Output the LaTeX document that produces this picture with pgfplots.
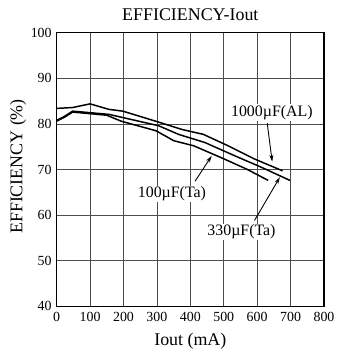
\documentclass[border=0pt]{standalone}
\usepackage{fontspec}
\setmainfont{Liberation Serif}
\usepackage{pgfplots}
\pgfplotsset{compat=1.18}
\usetikzlibrary{arrows.meta}
\begin{document}
\begin{tikzpicture}
\begin{axis}[
  scale only axis,
  width=269pt, height=275pt,
  xmin=0, xmax=800, ymin=40, ymax=100,
  xtick={0,100,...,800}, ytick={40,50,...,100},
  grid=major,
  major grid style={black!70, line width=0.7pt},
  axis line style={black, line width=1.1pt},
  tick style={draw=none},
  /pgf/number format/assume math mode=true,
  ticklabel style={font=\fontsize{14}{16}\selectfont},
  xticklabel style={yshift=-2.5pt},
  yticklabel style={xshift=-1.5pt},
  clip=false,
]
% invisible bounding box
\path (rel axis cs:0,0) ++(-57pt,-45pt) coordinate (bbA);
\path (rel axis cs:1,1) ++(13pt,33pt) coordinate (bbB);
\path (bbA) rectangle (bbB);
% title and labels
\node[anchor=base, font=\fontsize{18}{20}\selectfont] at ([yshift=12pt]rel axis cs:0.5,1) {EFFICIENCY-Iout};
\node[anchor=base, font=\fontsize{18}{20}\selectfont] at ([yshift=-40pt]rel axis cs:0.5,0) {Iout (mA)};
\node[anchor=base, rotate=90, font=\fontsize{18}{20}\selectfont] at ([xshift=-34.5pt,yshift=3pt]rel axis cs:0,0.5) {EFFICIENCY (\%)};
% 1000uF (AL)
\addplot[black, line width=1.5pt] coordinates {
 (0,83.4) (48,83.6) (100,84.4) (156,83.2) (198,82.8) (305,80.4) (374,78.8) (439,77.7) (513,75.2) (592,72.3) (676,69.7)};
% 330uF (Ta)
\addplot[black, line width=1.5pt] coordinates {
 (0,80.8) (22,81.6) (48,82.8) (156,82.1) (305,79.6) (365,77.7) (444,75.9) (533,73.0) (612,70.5) (698,67.6)};
% 100uF (Ta)
\addplot[black, line width=1.5pt] coordinates {
 (0,80.6) (22,81.4) (48,82.6) (150,81.9) (193,80.6) (297,78.5) (351,76.3) (410,75.2) (489,72.7) (568,70.1) (633,67.6)};
\node[fill=white, inner sep=1pt, font=\fontsize{16}{18}\selectfont] at (axis cs:644,82.5) {1000µF(AL)};
\draw[-{Stealth[length=7pt,width=4pt]}, line width=0.9pt] (axis cs:630,80.2) -- (axis cs:645,71.7);
\node[fill=white, inner sep=1pt, font=\fontsize{16}{18}\selectfont] at (axis cs:345,64.6) {100µF(Ta)};
\draw[-{Stealth[length=7pt,width=4pt]}, line width=0.9pt] (axis cs:414,67.4) -- (axis cs:464,73);
\node[fill=white, inner sep=1pt, font=\fontsize{16}{18}\selectfont] at (axis cs:553,56.3) {330µF(Ta)};
\draw[-{Stealth[length=7pt,width=4pt]}, line width=0.9pt] (axis cs:592,58.8) -- (axis cs:668,68.3);
\end{axis}
\end{tikzpicture}
\end{document}
